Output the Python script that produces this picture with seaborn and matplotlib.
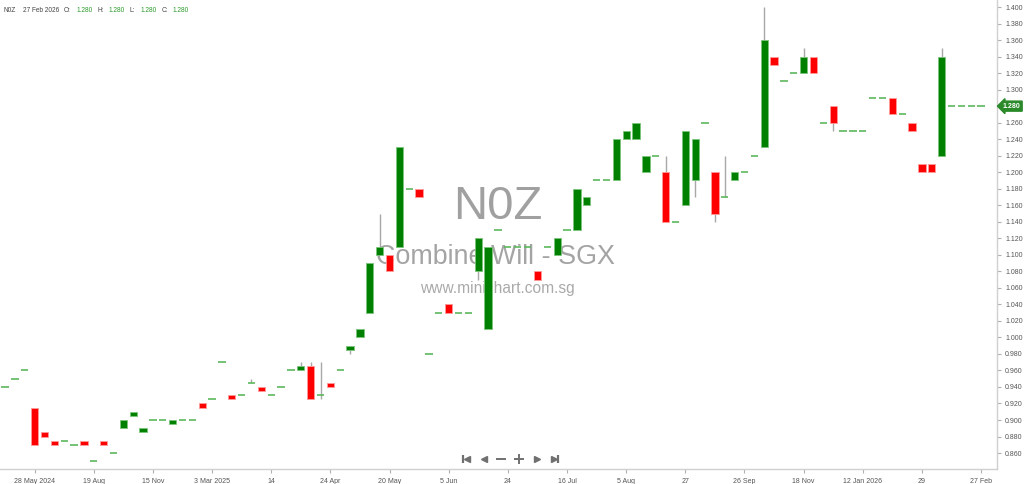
import numpy as np
import pandas as pd
import matplotlib
matplotlib.use('Agg')
import matplotlib.pyplot as plt
import matplotlib.transforms as mtransforms
import seaborn as sns

# Daily candles (only days with trades), oldest first
opens = [0.940, 0.950, 0.960, 0.915, 0.885, 0.875, 0.875, 0.870, 0.875, 0.850,
         0.875, 0.860, 0.890, 0.905, 0.885, 0.900, 0.900, 0.895, 0.900, 0.900,
         0.920, 0.925, 0.970, 0.930, 0.930, 0.945, 0.940, 0.930, 0.940, 0.960,
         0.960, 0.965, 0.930, 0.945, 0.960, 0.985, 1.000, 1.030, 1.100, 1.100,
         1.110, 1.180, 1.180, 0.980, 1.030, 1.040, 1.030, 1.030, 1.080, 1.010,
         1.130, 1.110, 1.110, 1.110, 1.080, 1.110, 1.100, 1.130, 1.130, 1.160,
         1.190, 1.190, 1.190, 1.240, 1.240, 1.200, 1.220, 1.200, 1.140, 1.160,
         1.190, 1.260, 1.200, 1.170, 1.190, 1.200, 1.220, 1.230, 1.340, 1.310,
         1.320, 1.320, 1.340, 1.260, 1.280, 1.250, 1.250, 1.250, 1.290, 1.290,
         1.290, 1.270, 1.260, 1.210, 1.210, 1.220, 1.280, 1.280, 1.280, 1.280]
closes = [0.940, 0.950, 0.960, 0.870, 0.880, 0.870, 0.875, 0.870, 0.870, 0.850,
          0.870, 0.860, 0.900, 0.910, 0.890, 0.900, 0.900, 0.900, 0.900, 0.900,
          0.915, 0.925, 0.970, 0.925, 0.930, 0.945, 0.935, 0.930, 0.940, 0.960,
          0.965, 0.925, 0.930, 0.940, 0.960, 0.990, 1.010, 1.090, 1.110, 1.080,
          1.230, 1.180, 1.170, 0.980, 1.030, 1.030, 1.030, 1.030, 1.120, 1.110,
          1.130, 1.110, 1.110, 1.110, 1.070, 1.110, 1.120, 1.130, 1.180, 1.170,
          1.190, 1.190, 1.240, 1.250, 1.260, 1.220, 1.220, 1.140, 1.140, 1.250,
          1.240, 1.260, 1.150, 1.170, 1.200, 1.200, 1.220, 1.360, 1.330, 1.310,
          1.320, 1.340, 1.320, 1.260, 1.260, 1.250, 1.250, 1.250, 1.290, 1.290,
          1.270, 1.270, 1.250, 1.200, 1.200, 1.340, 1.280, 1.280, 1.280, 1.280]
# only the candles whose high / low reach past the body
highs_extra = {25: 0.950, 30: 0.970, 31: 0.970, 32: 0.970, 38: 1.150,
               67: 1.220, 73: 1.220, 77: 1.400, 81: 1.350, 95: 1.350}
lows_extra = {32: 0.925, 35: 0.980, 48: 1.070, 70: 1.170, 72: 1.140, 84: 1.250}

tick_pos = [3, 9, 15, 21, 27, 33, 39, 45, 51, 57, 63, 69, 75, 81, 87, 93, 99]
tick_labels = ['28 May 2024', '19 Aug', '15 Nov', '3 Mar 2025', '14', '24 Apr',
               '20 May', '5 Jun', '24', '16 Jul', '5 Aug', '27', '26 Sep',
               '18 Nov', '12 Jan 2026', '29', '27 Feb']
y_ticks = np.round(np.arange(0.86, 1.4001, 0.02), 3)
last_price = 1.280

df = pd.DataFrame({'open': opens, 'close': closes})
df['high'] = df[['open', 'close']].max(axis=1)
df['low'] = df[['open', 'close']].min(axis=1)
for k, v in highs_extra.items():
    df.loc[k, 'high'] = v
for k, v in lows_extra.items():
    df.loc[k, 'low'] = v
df['x'] = np.arange(len(df))

sns.set_style('white')
plt.rcParams['font.family'] = ['Liberation Sans', 'DejaVu Sans']

W, H = 1024, 484
fig = plt.figure(figsize=(W / 100, H / 100), dpi=100)
ax = fig.add_axes([0, 15 / H, 996.7 / W, 469 / H])

GREEN = '#008000'
RED = '#ff0000'
DASH = '#5cb85c'
WICK = '#a8a8a8'
bw = 0.74
FS = 5.0

# wicks
wk = df[(df['high'] > df[['open', 'close']].max(axis=1)) | (df['low'] < df[['open', 'close']].min(axis=1))]
ax.vlines(wk['x'], wk['low'], wk['high'], color=WICK, lw=1.0, zorder=2)

up = df[df['close'] > df['open']]
dn = df[df['close'] < df['open']]
flat = df[df['close'] == df['open']]
ax.bar(up['x'], up['close'] - up['open'], bottom=up['open'], width=bw,
       color=GREEN, edgecolor='#7cc47c', linewidth=0.6, zorder=3)
ax.bar(dn['x'], dn['open'] - dn['close'], bottom=dn['close'], width=bw,
       color=RED, edgecolor='#ff9a9a', linewidth=0.6, zorder=3)
ax.hlines(flat['open'], flat['x'] - bw / 2, flat['x'] + bw / 2, color=DASH, lw=1.2, zorder=3)

ax.set_xlim(-0.507, 100.58)
ax.set_ylim(0.8407, 1.4085)

ax.yaxis.tick_right()
ax.set_yticks(y_ticks)
# the 1.280 label sits under the last-price marker
ax.set_yticklabels(['' if abs(v - last_price) < 1e-9 else f'{v:.3f}' for v in y_ticks])
ax.set_xticks(tick_pos)
ax.set_xticklabels(tick_labels)
ax.tick_params(axis='both', labelsize=FS, labelcolor='#555555', color='#b0b0b0',
               length=3, width=0.8, pad=3)
ax.tick_params(axis='x', bottom=True, pad=3.5)
ax.tick_params(axis='y', right=True, left=False)
for s in ['top', 'left']:
    ax.spines[s].set_visible(False)
for s in ['right', 'bottom']:
    ax.spines[s].set_color('#d0d0d0')
    ax.spines[s].set_linewidth(1.0)

# watermark
ax.text(0.499, 0.558, 'N0Z', transform=ax.transAxes, fontsize=34, color='#a0a0a0',
        ha='center', va='center', zorder=1)
ax.text(0.497, 0.452, 'Combine Will - SGX', transform=ax.transAxes, fontsize=19.4,
        color='#a4a4a4', ha='center', va='center', zorder=1)
ax.text(0.499, 0.385, 'www.minichart.com.sg', transform=ax.transAxes, fontsize=11.2,
        color='#aaaaaa', ha='center', va='center', zorder=1)

# last price marker on the price axis
trans = mtransforms.blended_transform_factory(ax.transAxes, ax.transData)
ax.text(1.0062, last_price, f'{last_price:.3f}', transform=trans, fontsize=FS,
        color='white', fontweight='bold', ha='left', va='center', clip_on=False,
        bbox=dict(boxstyle='larrow,pad=0.22', fc='#2a8a2a', ec='#2a8a2a'))

# header
hy = 1 - 10.3 / H
HFS = 4.7
fig.text(3.3 / W, hy, 'N0Z', fontsize=HFS, color='#444444', va='center')
fig.text(22.7 / W, hy, '27 Feb 2026', fontsize=HFS, color='#444444', va='center')
for lab, lx, vx in [('O:', 63.7, 76.3), ('H:', 97, 109), ('L:', 130, 140.7), ('C:', 161.3, 172.3)]:
    fig.text(lx / W, hy, lab, fontsize=HFS, color='#444444', va='center')
    fig.text(vx / W, hy, f'{last_price:.3f}', fontsize=HFS, color='#2a9a2a', va='center')

# navigation buttons
nav = fig.add_axes([0, 0, 1, 1], facecolor='none')
nav.set_xlim(0, W)
nav.set_ylim(H, 0)
nav.axis('off')
nav.plot([462.5], [459.3], marker='|', ms=6, mew=1.6, color='#707070')
nav.plot([466.5, 484], [459.3, 459.3], ls='none', marker='<', ms=5, color='#707070')
nav.plot([537, 553.5], [459.3, 459.3], ls='none', marker='>', ms=5, color='#707070')
nav.plot([557.5], [459.3], marker='|', ms=6, mew=1.6, color='#707070')
nav.plot([501], [459.3], marker='_', ms=7, mew=1.4, color='#707070')
nav.plot([519], [459.3], marker='+', ms=7, mew=1.4, color='#707070')

fig.savefig('out.png', dpi=100)
